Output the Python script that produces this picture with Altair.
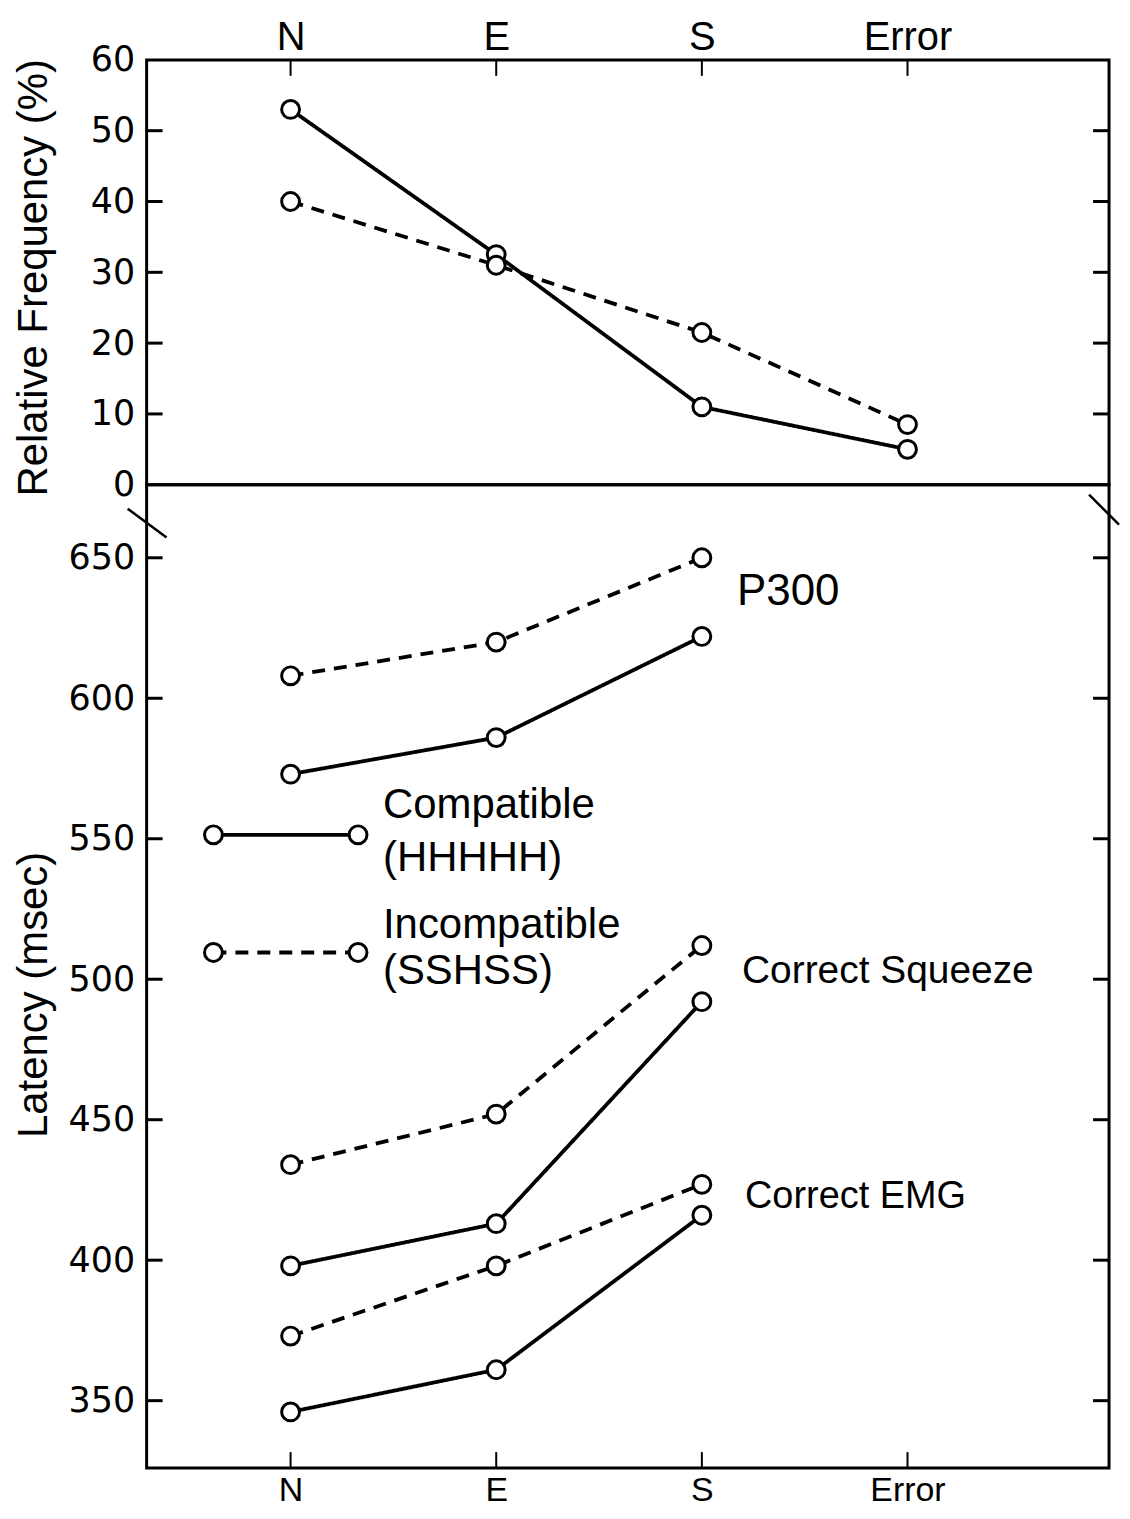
import altair as alt
import pandas as pd

# ---------------- data ----------------
categories = ["N", "E", "S", "Error"]
freq_compatible = [53, 32.5, 11, 5]
freq_incompatible = [40, 31, 21.5, 8.5]
freq_ticks = [0, 10, 20, 30, 40, 50, 60]

latency_categories = ["N", "E", "S"]
p300_compatible = [573, 586, 622]
p300_incompatible = [608, 620, 650]
squeeze_compatible = [398, 413, 492]
squeeze_incompatible = [434, 452, 512]
emg_compatible = [346, 361, 416]
emg_incompatible = [373, 398, 427]
latency_ticks = [350, 400, 450, 500, 550, 600, 650]

conditions = ["Compatible", "Incompatible"]
condition_notes = ["(HHHHH)", "(SSHSS)"]
measure_labels = ["P300", "Correct Squeeze", "Correct EMG"]

# ---------------- tables ----------------
freq_rows = []
for cond, vals in zip(conditions, [freq_compatible, freq_incompatible]):
    for i, v in enumerate(vals):
        freq_rows.append({"idx": i, "value": v, "condition": cond, "measure": "freq"})
df_freq = pd.DataFrame(freq_rows)

lat_rows = []
lat_series = [
    (measure_labels[0], conditions[0], p300_compatible),
    (measure_labels[0], conditions[1], p300_incompatible),
    (measure_labels[1], conditions[0], squeeze_compatible),
    (measure_labels[1], conditions[1], squeeze_incompatible),
    (measure_labels[2], conditions[0], emg_compatible),
    (measure_labels[2], conditions[1], emg_incompatible),
]
for meas, cond, vals in lat_series:
    for i, v in enumerate(vals):
        lat_rows.append({"idx": i, "value": v, "condition": cond, "measure": meas})
df_lat = pd.DataFrame(lat_rows)

df_cat = pd.DataFrame({"idx": list(range(len(categories))), "cat": categories})
df_ftick = pd.DataFrame({"value": freq_ticks[1:-1]})
df_ltick = pd.DataFrame({"value": latency_ticks})
one = alt.Data(values=[{}])

# ---------------- styling ----------------
W = 965
H_TOP = 426
H_BOT = 986
X_DOMAIN = [-0.70, 3.98]
DASH = [13, 9]
LABEL_FONT = "Liberation Sans"
TICK_FONT = "DejaVu Sans"
LW = 3.8

label_expr = "[" + ",".join("'%s'" % c for c in categories) + "][datum.value]"
xscale = alt.Scale(domain=X_DOMAIN, nice=False, zero=False)
dash_scale = alt.Scale(domain=conditions, range=[[1, 0], DASH])


def x_axis(orient, size, pad):
    return alt.Axis(orient=orient, values=list(range(len(categories))), labelExpr=label_expr,
                    ticks=False, domain=False, grid=False, title=None,
                    labelFont=LABEL_FONT, labelFontSize=size, labelColor="black",
                    labelPadding=pad, labelFlush=False, labelOverlap=False)


def y_axis(vals, title, title_y):
    return alt.Axis(values=vals, ticks=False, domain=False, grid=False,
                    labelFont=TICK_FONT, labelFontSize=35, labelColor="black",
                    labelPadding=12, labelOverlap=False,
                    title=title, titleFont=LABEL_FONT, titleFontSize=42,
                    titleFontWeight="normal", titleColor="black",
                    titleX=-100, titleY=title_y, titleAngle=270,
                    titleBaseline="alphabetic", titleAlign="center")


def panel(df, yscale, yaxis, xaxis, height, ytick_df, tick_top):
    X = alt.X("idx:Q", scale=xscale, axis=xaxis)
    Y = alt.Y("value:Q", scale=yscale, axis=yaxis)
    lines = alt.Chart(df).mark_line(color="black", strokeWidth=LW).encode(
        x=X, y=Y,
        strokeDash=alt.StrokeDash("condition:N", scale=dash_scale, legend=None),
        detail="measure:N",
    )
    points = alt.Chart(df).mark_point(shape="circle", filled=True, fill="white", stroke="black",
                                      strokeWidth=3, size=320, opacity=1).encode(x=X, y=Y)
    tl = alt.Chart(ytick_df).mark_rule(color="black", strokeWidth=3).encode(
        y=Y, x=alt.value(0), x2=alt.value(16))
    tr = alt.Chart(ytick_df).mark_rule(color="black", strokeWidth=3).encode(
        y=Y, x=alt.value(W - 16), x2=alt.value(W))
    if tick_top:
        yy = dict(y=alt.value(0), y2=alt.value(16))
    else:
        yy = dict(y=alt.value(height - 16), y2=alt.value(height))
    tx = alt.Chart(df_cat).mark_rule(color="black", strokeWidth=2).encode(x=X, **yy)
    return [tl, tr, tx, lines, points]


# ---------------- top panel: relative frequency ----------------
top_layers = panel(
    df_freq,
    alt.Scale(domain=[0, 60], nice=False, zero=False),
    y_axis(freq_ticks, "Relative Frequency (%)", 218),
    x_axis("top", 40, 2),
    H_TOP, df_ftick, True,
)
top = alt.layer(*top_layers).properties(width=W, height=H_TOP)

# ---------------- bottom panel: latency ----------------
bot_layers = panel(
    df_lat,
    alt.Scale(domain=[326, 676], nice=False, zero=False),
    y_axis(latency_ticks, "Latency (msec)", 511),
    x_axis("bottom", 34, 5),
    H_BOT, df_ltick, False,
)


def label(text, x, y, size):
    return alt.Chart(one).mark_text(align="left", baseline="middle", font=LABEL_FONT,
                                    fontSize=size, color="black").encode(
        x=alt.value(x), y=alt.value(y), text=alt.value(text))


def legend_item(y, dash):
    line = alt.Chart(one).mark_rule(color="black", strokeWidth=LW, strokeDash=dash).encode(
        x=alt.value(67), x2=alt.value(212), y=alt.value(y))
    pts = [alt.Chart(one).mark_point(shape="circle", filled=True, fill="white", stroke="black",
                                     strokeWidth=3, size=320, opacity=1).encode(
        x=alt.value(px), y=alt.value(y)) for px in (67, 212)]
    return [line] + pts


extras = []
extras += legend_item(351, [1, 0])
extras += legend_item(469, DASH)
extras += [
    label(conditions[0], 237, 321, 42),
    label(condition_notes[0], 237, 374, 42),
    label(conditions[1], 237, 441, 42),
    label(condition_notes[1], 237, 488, 42),
    label(measure_labels[0], 592, 108, 44),
    label(measure_labels[1], 597, 488, 39),
    label(measure_labels[2], 600, 714, 38),
]
# axis break marks
extras += [
    alt.Chart(one).mark_rule(color="black", strokeWidth=2.5).encode(
        x=alt.value(-19), x2=alt.value(20), y=alt.value(24), y2=alt.value(53)),
    alt.Chart(one).mark_rule(color="black", strokeWidth=2.5).encode(
        x=alt.value(945), x2=alt.value(975), y=alt.value(10), y2=alt.value(40)),
]

bottom = alt.layer(*(bot_layers + extras)).properties(width=W, height=H_BOT)

chart = alt.vconcat(top, bottom, spacing=0, bounds="flush").properties(
    padding={"left": 3, "top": 6, "right": 0, "bottom": 0},
    background="white",
).configure_view(stroke="black", strokeWidth=3).configure_concat(spacing=0)

chart.save("out.html", embed_options={"renderer": "svg", "actions": False})
